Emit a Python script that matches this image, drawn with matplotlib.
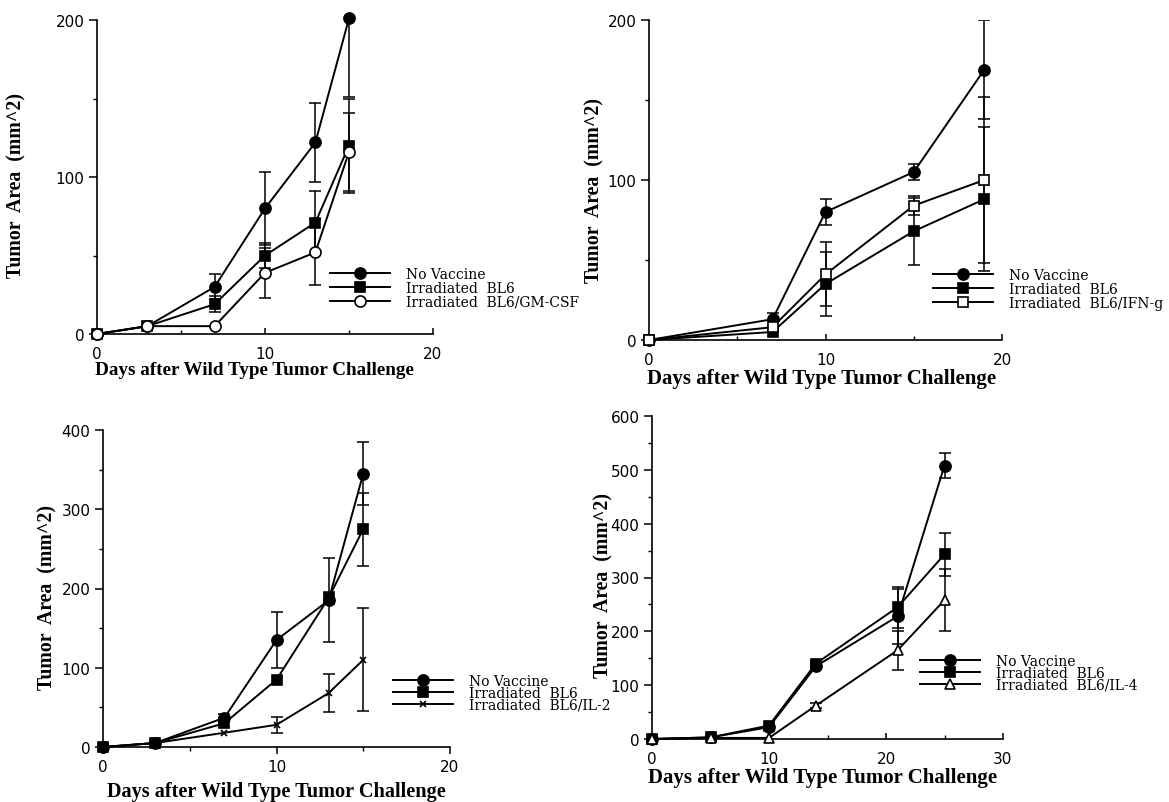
import numpy as np
import matplotlib
matplotlib.use("Agg")
import matplotlib.pyplot as plt

# ---------------- data ----------------
# Panel 1: GM-CSF
days1 = [0, 3, 7, 10, 13, 15]
nv1 = [0, 5, 30, 80, 122, 201]
nv1_err = [0, 0, 8, 23, 25, 50]
bl1 = [0, 5, 19, 50, 71, 120]
bl1_err = [0, 0, 5, 8, 20, 30]
gm1 = [0, 5, 5, 39, 52, 116]
gm1_err = [0, 0, 0, 16, 21, 25]

# Panel 2: IFN-g
days2 = [0, 7, 10, 15, 19]
nv2 = [0, 13, 80, 105, 169]
nv2_err = [0, 4, 8, 5, 31]
bl2 = [0, 5, 35, 68, 88]
bl2_err = [0, 0, 20, 21, 45]
ifn2 = [0, 8, 41, 84, 100]
ifn2_err = [0, 0, 20, 6, 52]

# Panel 3: IL-2
days3 = [0, 3, 7, 10, 13, 15]
nv3 = [0, 5, 37, 135, 185, 345]
nv3_err = [0, 0, 5, 35, 53, 40]
bl3 = [0, 5, 30, 85, 188, 275]
bl3_err = [0, 0, 0, 0, 8, 46]
il2 = [0, 5, 18, 28, 68, 110]
il2_err = [0, 0, 0, 10, 24, 65]

# Panel 4: IL-4
days4 = [0, 5, 10, 14, 21, 25]
nv4 = [0, 3, 22, 135, 228, 508]
nv4_err = [0, 0, 0, 5, 51, 23]
bl4 = [0, 3, 25, 140, 245, 343]
bl4_err = [0, 0, 0, 5, 38, 40]
il4 = [0, 2, 2, 62, 165, 258]
il4_err = [0, 0, 0, 4, 36, 58]

labels1 = ["No Vaccine", "Irradiated  BL6", "Irradiated  BL6/GM-CSF"]
labels2 = ["No Vaccine", "Irradiated  BL6", "Irradiated  BL6/IFN-g"]
labels3 = ["No Vaccine", "Irradiated  BL6", "Irradiated  BL6/IL-2"]
labels4 = ["No Vaccine", "Irradiated  BL6", "Irradiated  BL6/IL-4"]

xlabel = "Days after Wild Type Tumor Challenge"
ylabel = "Tumor  Area  (mm^2)"

# ---------------- figure ----------------
W, H = 1169, 803
fig = plt.figure(figsize=(W / 100, H / 100), dpi=100)
fig.patch.set_facecolor("white")

LABEL_FONT = "Liberation Serif"
LEGEND_FONT = "DejaVu Serif"
TICK_FONT = "DejaVu Sans"


def px_axes(x0, x1, ytop, ybot):
    return fig.add_axes([x0 / W, 1 - ybot / H, (x1 - x0) / W, (ybot - ytop) / H])


def series(ax, x, y, err, marker, mfc, ms, label):
    x = np.asarray(x, float)
    y = np.asarray(y, float)
    err = np.asarray(err, float)
    m = err > 0
    if m.any():
        ax.errorbar(x[m], y[m], yerr=err[m], fmt="none", ecolor="black",
                    elinewidth=1.1, capsize=4, capthick=1.1, zorder=2)
    line, = ax.plot(x, y, color="black", lw=1.4, marker=marker, mfc=mfc,
                    mec="black", ms=ms, mew=1.2, clip_on=False, label=label,
                    zorder=3)
    return line


def style(ax, xmax, ymax, xmaj, xmin, ymaj, ymin, xdir="in"):
    ax.set_xlim(0, xmax)
    ax.set_ylim(0, ymax)
    ax.set_xticks(xmaj)
    ax.set_xticks(xmin, minor=True)
    ax.set_yticks(ymaj)
    ax.set_yticks(ymin, minor=True)
    for s in ["top", "right"]:
        ax.spines[s].set_visible(False)
    for s in ["left", "bottom"]:
        ax.spines[s].set_linewidth(1.2)
    ax.tick_params(axis="y", which="major", direction="out", length=6,
                   width=1.1, labelsize=11, pad=3)
    ax.tick_params(axis="y", which="minor", direction="out", length=3, width=1.0)
    if xdir == "in":
        ax.tick_params(axis="x", which="major", direction="in", length=4,
                       width=1.1, labelsize=11, pad=8.5)
        ax.tick_params(axis="x", which="minor", direction="in", length=3,
                       width=1.0)
    else:
        ax.tick_params(axis="x", which="major", direction="out", length=5,
                       width=1.1, labelsize=11, pad=4)
        ax.tick_params(axis="x", which="minor", direction="out", length=3,
                       width=1.0)
    for t in ax.get_xticklabels() + ax.get_yticklabels():
        t.set_fontfamily(TICK_FONT)


def labels(ax, xl_pos, yl_pos, xsize=15, ysize=14.2):
    ax.set_xlabel(xlabel, fontfamily=LABEL_FONT, fontweight="bold", fontsize=xsize)
    ax.set_ylabel(ylabel, fontfamily=LABEL_FONT, fontweight="bold", fontsize=ysize)
    ax.xaxis.set_label_coords(*xl_pos)
    ax.yaxis.set_label_coords(*yl_pos)


def legend(ax, handles, anchor_px, spacing=0.0):
    ax.legend(handles=handles, loc="center left",
              bbox_to_anchor=(anchor_px[0] / W, 1 - anchor_px[1] / H),
              bbox_transform=fig.transFigure, frameon=False, borderpad=0,
              borderaxespad=0, handlelength=4.3, handletextpad=1.2,
              labelspacing=spacing, numpoints=1,
              prop={"family": LEGEND_FONT, "size": 10})


# Panel 1
ax1 = px_axes(97, 433, 21, 335)
h = [series(ax1, days1, nv1, nv1_err, "o", "black", 8, labels1[0]),
     series(ax1, days1, bl1, bl1_err, "s", "black", 7.5, labels1[1]),
     series(ax1, days1, gm1, gm1_err, "o", "white", 8, labels1[2])]
style(ax1, 20, 200, [0, 10, 20], [5, 15], [0, 100, 200], [50, 150])
labels(ax1, (0.47, -0.086), (-0.211, 0.475), xsize=13.8)
legend(ax1, h, (330, 289))

# Panel 2
ax2 = px_axes(649, 1002, 21, 341)
h = [series(ax2, days2, nv2, nv2_err, "o", "black", 8, labels2[0]),
     series(ax2, days2, bl2, bl2_err, "s", "black", 7.5, labels2[1]),
     series(ax2, days2, ifn2, ifn2_err, "s", "white", 7.5, labels2[2])]
style(ax2, 20, 200, [0, 10, 20], [5, 15], [0, 100, 200], [50, 150])
labels(ax2, (0.49, -0.0875), (-0.125, 0.47))
legend(ax2, h, (933, 290))

# Panel 3
ax3 = px_axes(103, 450, 431, 748)
h = [series(ax3, days3, nv3, nv3_err, "o", "black", 8, labels3[0]),
     series(ax3, days3, bl3, bl3_err, "s", "black", 7.5, labels3[1]),
     series(ax3, days3, il2, il2_err, "x", "black", 5, labels3[2])]
style(ax3, 20, 400, [0, 10, 20], [5, 15], [0, 100, 200, 300, 400],
      [50, 150, 250, 350], xdir="out")
labels(ax3, (0.5, -0.107), (-0.13, 0.476), xsize=14.6)
legend(ax3, h, (393, 694), spacing=-0.15)

# Panel 4
ax4 = px_axes(652, 1003, 417, 740)
h = [series(ax4, days4, nv4, nv4_err, "o", "black", 8, labels4[0]),
     series(ax4, days4, bl4, bl4_err, "s", "black", 7.5, labels4[1]),
     series(ax4, days4, il4, il4_err, "^", "white", 7.5, labels4[2])]
style(ax4, 30, 600, [0, 10, 20, 30], [5, 15, 25],
      [0, 100, 200, 300, 400, 500, 600], [50, 150, 250, 350, 450, 550])
labels(ax4, (0.487, -0.086), (-0.111, 0.477))
legend(ax4, h, (920, 674), spacing=-0.15)

fig.savefig("out.png", dpi=100, facecolor="white")
